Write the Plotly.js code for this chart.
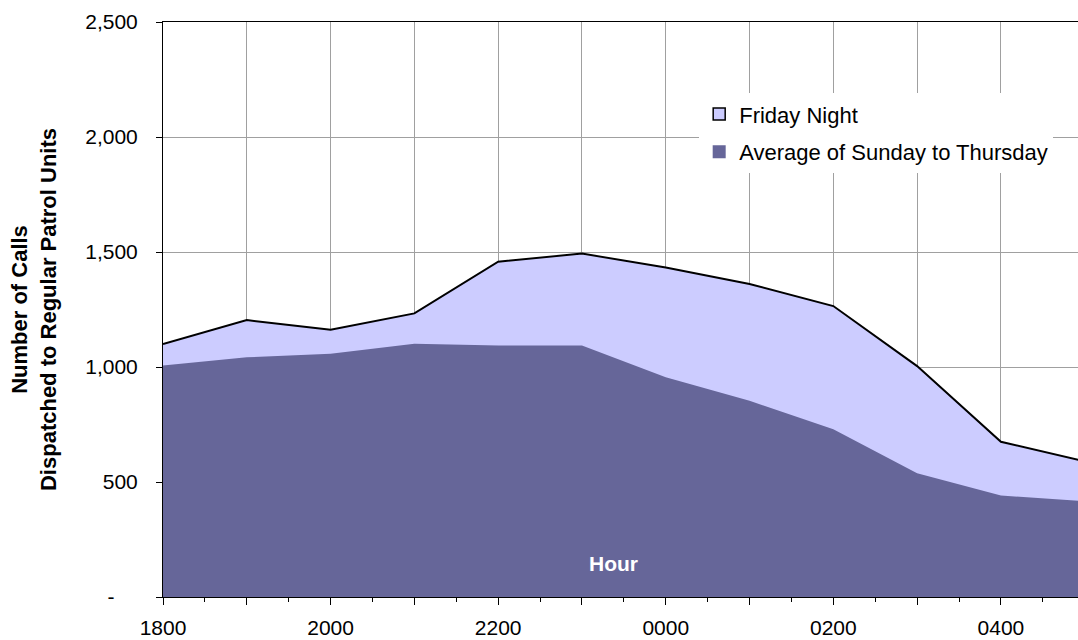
<!DOCTYPE html>
<html>
<head>
<meta charset="utf-8">
<script src="https://cdn.plot.ly/plotly-3.0.1.min.js"></script>
<style>html,body{margin:0;padding:0;background:#fff;}#chart{width:1078px;height:640px;}</style>
</head>
<body>
<div id="chart"></div>
<script>
const hours = ['1800','1900','2000','2100','2200','2300','0000','0100','0200','0300','0400','0500'];
const fridayNight = [1100, 1204, 1162, 1233, 1458, 1493, 1433, 1361, 1265, 1004, 675, 590];
const avgSunThu = [1006, 1042, 1058, 1101, 1094, 1093, 955, 853, 729, 538, 441, 417];
const yTicks = [0, 500, 1000, 1500, 2000, 2500];

const xIdx = hours.map((h, i) => i);
const labelled = hours.slice(0, 11);
const tickvals = labelled.map((h, i) => i);
const ticktext = labelled.map((h, i) => (i % 2 === 0 ? h : ''));
const minorVals = labelled.map((h, i) => i + 0.5);
const yTickText = yTicks.map(v => v === 0 ? '-\u00a0\u00a0\u00a0\u00a0' : v.toLocaleString('en-US'));

const FONT = 'Liberation Sans, Arial, sans-serif';

const traces = [
  {x: xIdx, y: fridayNight, type: 'scatter', mode: 'lines', fill: 'tozeroy',
   fillcolor: '#CCCCFF', line: {color: '#000000', width: 2}, name: 'Friday Night',
   showlegend: false, hoverinfo: 'skip'},
  {x: xIdx, y: avgSunThu, type: 'scatter', mode: 'lines', fill: 'tozeroy',
   fillcolor: '#666699', line: {color: '#666699', width: 0}, name: 'Average of Sunday to Thursday',
   showlegend: false, hoverinfo: 'skip'},
  {x: [null], y: [null], type: 'scatter', mode: 'markers', name: 'Friday Night', legendgroup: 'a',
   marker: {symbol: 'square', size: 12, color: '#CCCCFF', line: {color: '#000', width: 1.5}}},
  {x: [null], y: [null], type: 'scatter', mode: 'markers', name: 'Average of Sunday to Thursday', legendgroup: 'b',
   marker: {symbol: 'square', size: 13, color: '#666699', line: {width: 0}}}
];

const layout = {
  width: 1078, height: 640,
  margin: {l: 163, r: 0, t: 22, b: 43},
  paper_bgcolor: '#ffffff', plot_bgcolor: '#ffffff',
  font: {family: FONT, size: 21, color: '#000'},
  showlegend: true,
  legend: {x: 0.586, y: 0.876, xanchor: 'left', yanchor: 'top',
    bgcolor: '#ffffff', borderwidth: 0, font: {family: FONT, size: 22, color: '#000'},
    itemwidth: 30, traceorder: 'grouped', tracegroupgap: 6},
  xaxis: {
    range: [0, 10.92], tickmode: 'array', tickvals: tickvals, ticktext: ticktext,
    showgrid: true, gridcolor: '#A0A0A0', gridwidth: 1,
    showline: true, linecolor: '#000', linewidth: 1, mirror: true,
    ticks: 'outside', ticklen: 7, tickcolor: '#000', tickwidth: 1,
    ticklabelstandoff: 5,
    minor: {tickvals: minorVals, ticks: 'outside', ticklen: 4, tickcolor: '#000', showgrid: false},
    zeroline: false, fixedrange: true,
    tickfont: {family: FONT, size: 21, color: '#000'}
  },
  yaxis: {
    range: [0, 2500], tickmode: 'array', tickvals: yTicks, ticktext: yTickText,
    showgrid: true, gridcolor: '#A0A0A0', gridwidth: 1,
    showline: true, linecolor: '#000', linewidth: 1,
    ticks: 'outside', ticklen: 6, tickcolor: '#000', tickwidth: 1,
    ticklabelstandoff: 14,
    zeroline: false, fixedrange: true,
    tickfont: {family: FONT, size: 21, color: '#000'},
    title: {text: '<b>Number of Calls<br>Dispatched to Regular Patrol Units</b>',
      font: {family: FONT, size: 22, color: '#000'}, standoff: 22}
  },
  annotations: [{
    text: '<b>Hour</b>', xref: 'paper', yref: 'paper', x: 0.492, y: 0.059,
    xanchor: 'center', yanchor: 'middle',
    showarrow: false, font: {family: FONT, size: 21, color: '#ffffff'}
  }]
};

Plotly.newPlot('chart', traces, layout, {staticPlot: true, displayModeBar: false});
</script>
</body>
</html>
